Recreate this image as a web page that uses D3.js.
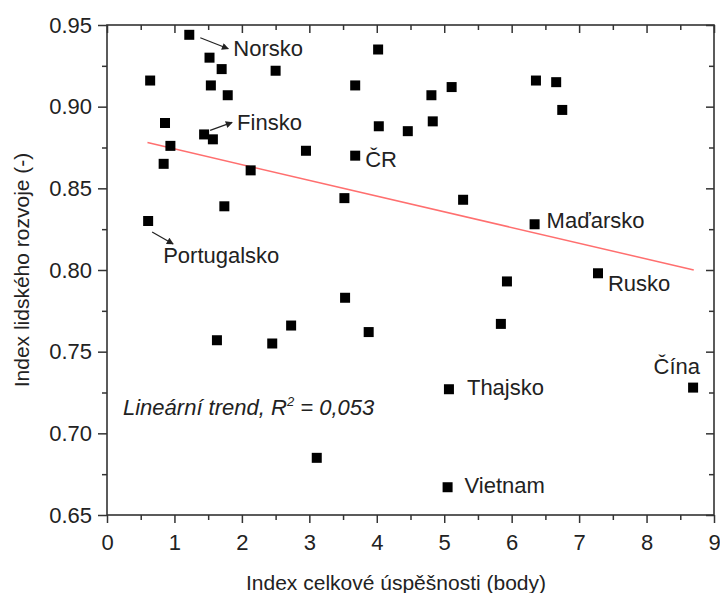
<!DOCTYPE html>
<html>
<head>
<meta charset="utf-8">
<script src="https://cdn.jsdelivr.net/npm/d3@7"></script>
<style>
  html, body { margin: 0; padding: 0; background: #fff; }
  svg text { font-family: "Liberation Sans", Arial, sans-serif; fill: #222; }
</style>
</head>
<body>
<svg id="chart" width="720" height="593"></svg>
<script>
// ---- data ----
const successIndex = [1.22,1.52,1.70,2.50,0.64,1.54,1.79,3.68,4.02,0.86,1.44,1.57,0.94,0.84,4.03,4.46,2.95,3.68,2.13,3.52,1.74,0.61,4.81,4.83,5.11,6.36,6.66,6.75,5.28,6.34,1.63,2.45,2.73,3.53,3.88,3.11,5.93,7.28,5.84,5.07,8.69,5.05];
const hdi = [0.944,0.930,0.923,0.922,0.916,0.913,0.907,0.913,0.935,0.890,0.883,0.880,0.876,0.865,0.888,0.885,0.873,0.870,0.861,0.844,0.839,0.830,0.907,0.891,0.912,0.916,0.915,0.898,0.843,0.828,0.757,0.755,0.766,0.783,0.762,0.685,0.793,0.798,0.767,0.727,0.728,0.667];
const countryNames = ["Norsko","","","","","","","","","","Finsko","","","","","","","ČR","","","","Portugalsko","","","","","","","","Maďarsko","","","","","","","","Rusko","","Thajsko","Čína","Vietnam"];
const trendX = [0.6, 8.7];
const trendY = [0.878, 0.800];
const xTicks = [0,1,2,3,4,5,6,7,8,9];
const yTicks = [0.65,0.70,0.75,0.80,0.85,0.90,0.95];
const xTitle = "Index celkové úspěšnosti (body)";
const yTitle = "Index lidského rozvoje (-)";
const trendLabel = "Lineární trend, R";
const trendLabelSup = "2";
const trendLabelTail = " = 0,053";

// ---- layout ----
const m = {left: 107, top: 25, right: 6, bottom: 78};
const W = 720, H = 593;
const w = W - m.left - m.right, h = H - m.top - m.bottom;
const svg = d3.select("#chart");
const g = svg.append("g").attr("transform", `translate(${m.left},${m.top})`);

const x = d3.scaleLinear().domain([0, 9]).range([0, w]);
const y = d3.scaleLinear().domain([0.65, 0.95]).range([h, 0]);

const axisColor = "#333";
const fontSize = 22;

// minor + major ticks
function styleAxis(sel) {
  sel.select(".domain").remove();
  sel.selectAll("line").attr("stroke", axisColor).attr("stroke-width", 1.5);
  sel.selectAll("text").style("font-size", fontSize + "px").attr("fill", "#222");
}
const xMinor = d3.range(0.5, 9, 1);
const yMinor = [0.675,0.725,0.775,0.825,0.875,0.925];

// bottom
g.append("g").attr("transform", `translate(0,${h})`)
  .call(d3.axisBottom(x).tickValues(xTicks).tickFormat(d3.format("d")).tickSize(8).tickPadding(11))
  .call(styleAxis);
g.append("g").attr("transform", `translate(0,${h})`)
  .call(d3.axisBottom(x).tickValues(xMinor).tickFormat("").tickSize(5))
  .call(styleAxis);
// top (inward)
g.append("g")
  .call(d3.axisBottom(x).tickValues(xTicks).tickFormat("").tickSize(8))
  .call(styleAxis);
g.append("g")
  .call(d3.axisBottom(x).tickValues(xMinor).tickFormat("").tickSize(5))
  .call(styleAxis);
// left
g.append("g")
  .call(d3.axisLeft(y).tickValues(yTicks).tickFormat(d3.format(".2f")).tickSize(9).tickPadding(6))
  .call(styleAxis);
g.append("g")
  .call(d3.axisLeft(y).tickValues(yMinor).tickFormat("").tickSize(5))
  .call(styleAxis);
// right (inward)
g.append("g").attr("transform", `translate(${w},0)`)
  .call(d3.axisLeft(y).tickValues(yTicks).tickFormat("").tickSize(8))
  .call(styleAxis);
g.append("g").attr("transform", `translate(${w},0)`)
  .call(d3.axisLeft(y).tickValues(yMinor).tickFormat("").tickSize(5))
  .call(styleAxis);

// frame
g.append("rect").attr("x", 0).attr("y", 0).attr("width", w).attr("height", h)
  .attr("fill", "none").attr("stroke", axisColor).attr("stroke-width", 1.6);

// trend line
g.append("line")
  .attr("x1", x(trendX[0])).attr("y1", y(trendY[0]))
  .attr("x2", x(trendX[1])).attr("y2", y(trendY[1]))
  .attr("stroke", "#ff6f6f").attr("stroke-width", 1.5);

// points
const pts = successIndex.map((v, i) => ({x: v, y: hdi[i], name: countryNames[i]}));
const s = 10;
g.selectAll("rect.pt").data(pts).enter().append("rect")
  .attr("class", "pt")
  .attr("x", d => x(d.x) - s/2).attr("y", d => y(d.y) - s/2)
  .attr("width", s).attr("height", s).attr("fill", "#000");

// labels (offsets relative to point)
const labelOffsets = {
  "Norsko": {dx: 44, dy: 21, arrow: [11, 3, 39, 14]},
  "Finsko": {dx: 33, dy: -4, arrow: [6, -4, 28, -12]},
  "Portugalsko": {dx: 15, dy: 42, arrow: [4, 11, 25, 23]},
  "ČR": {dx: 10, dy: 11},
  "Maďarsko": {dx: 12, dy: 4},
  "Rusko": {dx: 10, dy: 18},
  "Čína": {dx: 7, dy: -14, anchor: "end"},
  "Thajsko": {dx: 18, dy: 6},
  "Vietnam": {dx: 17, dy: 6}
};

const defs = svg.append("defs");
defs.append("marker").attr("id", "ah")
  .attr("viewBox", "0 0 10 10").attr("refX", 9).attr("refY", 5)
  .attr("markerWidth", 9).attr("markerHeight", 7).attr("orient", "auto")
  .attr("markerUnits", "userSpaceOnUse")
  .append("path").attr("d", "M0,0 L10,5 L0,10 Z").attr("fill", "#222");

pts.filter(d => d.name).forEach(d => {
  const o = labelOffsets[d.name];
  const px = x(d.x), py = y(d.y);
  g.append("text")
    .attr("x", px + o.dx).attr("y", py + o.dy)
    .attr("text-anchor", o.anchor || "start")
    .style("font-size", fontSize + "px")
    .text(d.name);
  if (o.arrow) {
    g.append("line")
      .attr("x1", px + o.arrow[0]).attr("y1", py + o.arrow[1])
      .attr("x2", px + o.arrow[2]).attr("y2", py + o.arrow[3])
      .attr("stroke", "#222").attr("stroke-width", 1.2)
      .attr("marker-end", "url(#ah)");
  }
});

// trend annotation
const t = g.append("text").attr("x", 16).attr("y", 390)
  .style("font-size", fontSize + "px").style("font-style", "italic");
t.append("tspan").text(trendLabel);
t.append("tspan").attr("dy", -9).style("font-size", "13px").text(trendLabelSup);
t.append("tspan").attr("dy", 9).text(trendLabelTail);

// axis titles
svg.append("text").attr("x", 396).attr("y", 590)
  .attr("text-anchor", "middle").style("font-size", "21px").text(xTitle);
svg.append("text")
  .attr("transform", `translate(29,${m.top + h/2}) rotate(-90)`)
  .attr("text-anchor", "middle").style("font-size", "21px").text(yTitle);
</script>
</body>
</html>
